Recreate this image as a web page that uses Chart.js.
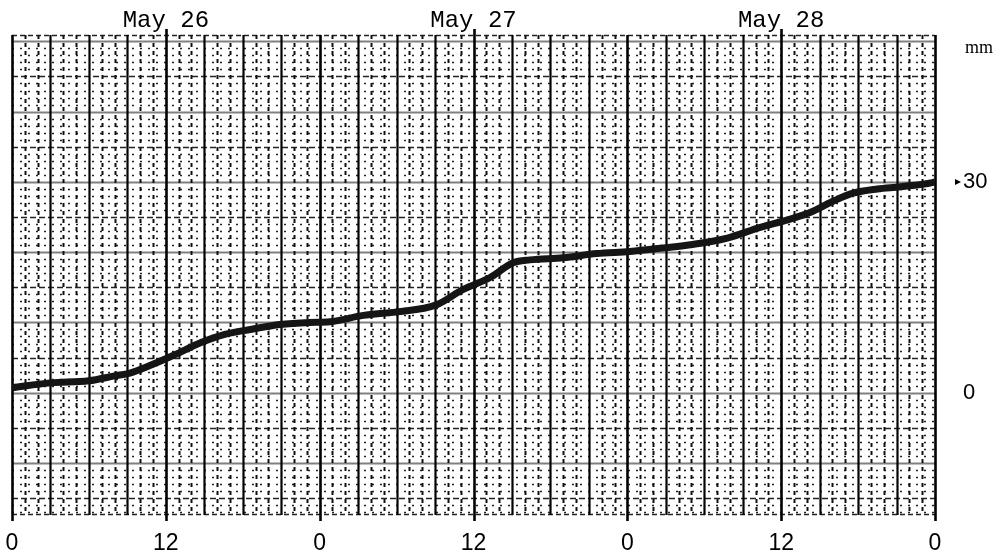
<!DOCTYPE html>
<html>
<head>
<meta charset="utf-8">
<script src="https://cdn.jsdelivr.net/npm/chart.js@4/dist/chart.umd.min.js"></script>
<style>
html,body{margin:0;padding:0;background:#fff;}
#wrap{width:1002px;height:555px;position:relative;}
</style>
</head>
<body>
<div id="wrap"><canvas id="c" width="1002" height="555"></canvas></div>
<script>
// ---- data ----
const hours = [0, 3, 6, 8, 9.2, 10.8, 12.7, 14.7, 16.6, 18.6, 20.9, 23.2, 24.8, 27.4, 30, 33.1, 35.2, 37.3, 39.1, 40.4, 43, 45.6, 48.2, 50.8, 53.1, 55.8, 58.3, 60.5, 62.2, 64, 65.6, 67.5, 69.3, 71.8, 72];
const depth = [0.7, 1.4, 1.7, 2.4, 2.8, 3.9, 5.4, 7.1, 8.3, 9.0, 9.7, 10.0, 10.1, 11.0, 11.5, 12.5, 14.7, 16.4, 18.5, 18.9, 19.2, 19.8, 20.1, 20.6, 21.1, 22.0, 23.5, 24.6, 25.6, 27.2, 28.4, 29.0, 29.3, 29.9, 30.0];
const dayTicks = [12, 36, 60];
const dayLabels = ['May 26', 'May 27', 'May 28'];
const hourTicks = [0, 12, 24, 36, 48, 60, 72];
const hourLabels = ['0', '12', '0', '12', '0', '12', '0'];
const yTicks = [0, 30];
const yLabels = ['0', '30'];
const yUnit = 'mm';

const points = hours.map((h, i) => ({x: h, y: depth[i]}));

const gridPlugin = {
  id: 'recorderGrid',
  beforeDatasetsDraw(chart) {
    const {ctx, chartArea: a, scales: {x, y}} = chart;
    ctx.save();
    // horizontal minor lines every 1 mm
    for (let v = Math.ceil(y.min); v <= Math.floor(y.max); v++) {
      const py = Math.round(y.getPixelForValue(v)) + 0.5;
      ctx.beginPath();
      if (v % 10 === 0) {
        ctx.setLineDash([]);
        ctx.strokeStyle = '#808080';
        ctx.lineWidth = 2;
      } else if (v % 5 === 0) {
        ctx.setLineDash([6, 3]);
        ctx.strokeStyle = '#222';
        ctx.lineWidth = 1.3;
      } else {
        ctx.setLineDash([2, 6]);
        ctx.strokeStyle = '#222';
        ctx.lineWidth = 1.5;
      }
      ctx.moveTo(a.left, py);
      ctx.lineTo(a.right, py);
      ctx.stroke();
    }
    // top and bottom edges (dashed)
    ctx.setLineDash([5, 3]);
    ctx.strokeStyle = '#222';
    ctx.lineWidth = 1.5;
    [a.top + 0.5, a.bottom - 0.5].forEach(py => {
      ctx.beginPath(); ctx.moveTo(a.left, py); ctx.lineTo(a.right, py); ctx.stroke();
    });
    // vertical lines every hour, bold every 3 h
    for (let h = 0; h <= 72; h++) {
      const px = Math.round(x.getPixelForValue(h)) + 0.5;
      ctx.beginPath();
      if (h % 3 === 0) {
        ctx.setLineDash([]);
        ctx.strokeStyle = '#000';
        ctx.lineWidth = h % 12 === 0 ? 2.6 : 2.2;
        const ext = h % 12 === 0 ? 6 : 0;
        ctx.moveTo(px, a.top);
        ctx.lineTo(px, a.bottom + ext);
      } else {
        ctx.setLineDash([4, 4]);
        ctx.strokeStyle = '#111';
        ctx.lineWidth = 2;
        ctx.moveTo(px, a.top);
        ctx.lineTo(px, a.bottom);
      }
      ctx.stroke();
    }
    // date tick marks above grid
    ctx.setLineDash([]);
    ctx.lineWidth = 2.6;
    ctx.strokeStyle = '#000';
    dayTicks.forEach(h => {
      const px = Math.round(x.getPixelForValue(h)) + 0.5;
      ctx.beginPath(); ctx.moveTo(px, a.top - 6); ctx.lineTo(px, a.top); ctx.stroke();
    });
    // small pointer before the 30 label
    const p30 = y.getPixelForValue(30);
    ctx.fillStyle = '#000';
    ctx.beginPath();
    ctx.moveTo(a.right + 20, p30 - 3);
    ctx.lineTo(a.right + 26, p30);
    ctx.lineTo(a.right + 20, p30 + 3);
    ctx.closePath();
    ctx.fill();
    // unit label
    ctx.font = '18px "Liberation Serif"';
    ctx.textAlign = 'left';
    ctx.textBaseline = 'middle';
    ctx.fillText(yUnit, a.right + 30, 48);
    ctx.restore();
  }
};

new Chart(document.getElementById('c'), {
  type: 'scatter',
  data: {
    datasets: [
      {data: points, showLine: true, borderColor: '#151515', borderWidth: 7, pointRadius: 0, cubicInterpolationMode: 'monotone', fill: false},
      {data: points, showLine: true, borderColor: '#707070', borderWidth: 1.5, pointRadius: 0, cubicInterpolationMode: 'monotone', fill: false}
    ]
  },
  options: {
    responsive: false,
    animation: false,
    layout: {padding: {left: 12, right: 0, top: 0, bottom: 0}},
    plugins: {legend: {display: false}, tooltip: {enabled: false}},
    scales: {
      x: {
        type: 'linear', position: 'bottom', min: 0, max: 72,
        afterBuildTicks: s => { s.ticks = hourTicks.map(v => ({value: v})); },
        afterFit: s => { s.height = 40; },
        grid: {display: false, drawTicks: true, tickLength: 15}, border: {display: false},
        ticks: {
          padding: 0, color: '#000', autoSkip: false, maxRotation: 0,
          font: {family: '"Liberation Sans", Arial', size: 23},
          callback: (v) => hourLabels[hourTicks.indexOf(v)] ?? ''
        }
      },
      x2: {
        type: 'linear', position: 'top', min: 0, max: 72,
        afterBuildTicks: s => { s.ticks = dayTicks.map(v => ({value: v})); },
        afterFit: s => { s.height = 35; },
        grid: {display: false, drawTicks: false}, border: {display: false},
        ticks: {
          padding: 0, color: '#000', autoSkip: false, maxRotation: 0,
          font: {family: '"Liberation Mono", "Courier New", monospace', size: 24},
          callback: (v) => dayLabels[dayTicks.indexOf(v)] ?? ''
        }
      },
      y: {
        type: 'linear', position: 'right', min: -17.4, max: 50.9,
        afterBuildTicks: s => { s.ticks = yTicks.map(v => ({value: v})); },
        afterFit: s => { s.width = 67; },
        grid: {display: false, drawTicks: true, tickLength: 28}, border: {display: false},
        ticks: {
          padding: 0, color: '#000',
          font: {family: '"Liberation Sans", Arial', size: 22},
          callback: (v) => yLabels[yTicks.indexOf(v)] ?? ''
        }
      }
    }
  },
  plugins: [gridPlugin]
});
</script>
</body>
</html>
